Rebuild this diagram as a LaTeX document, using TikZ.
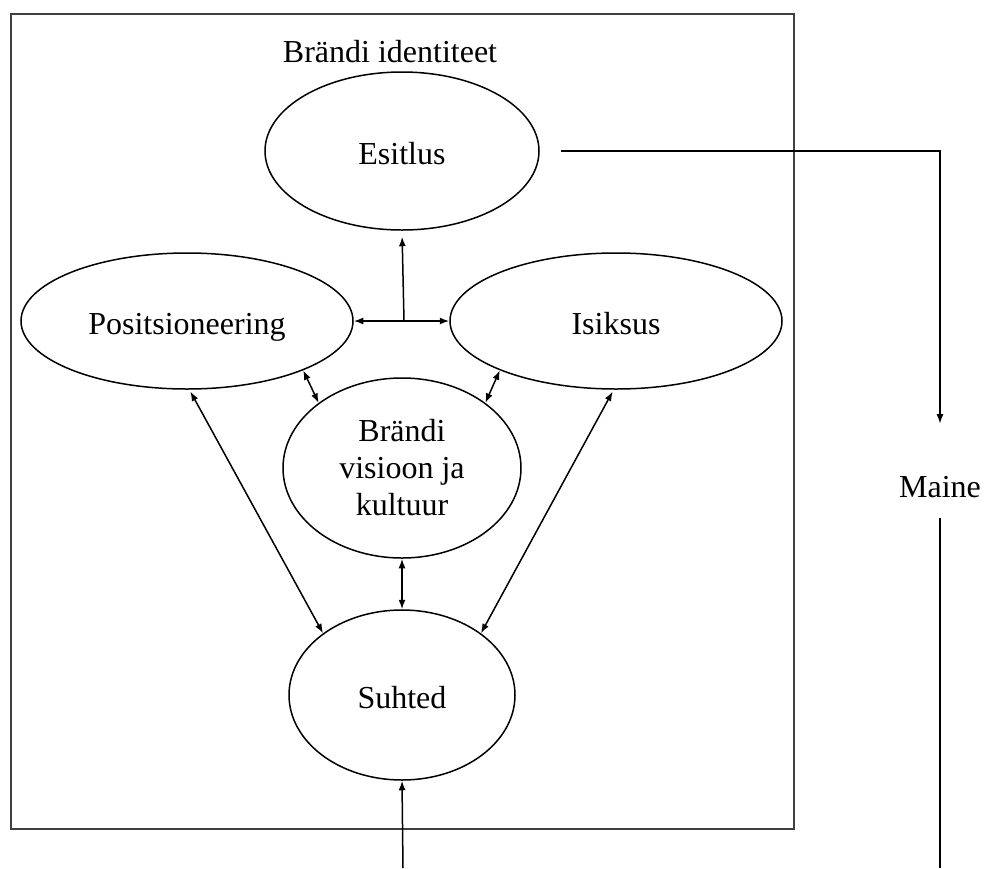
\documentclass[tikz,border=0pt]{standalone}
\usepackage{fontspec}
\setmainfont{Liberation Serif}
\usetikzlibrary{shapes.geometric,arrows.meta}
\begin{document}
\begin{tikzpicture}[x=1pt,y=-1pt,
  font=\fontsize{32}{37}\selectfont,
  bubble/.style={draw, ellipse, inner sep=0pt, line width=1.5pt},
  lbl/.style={text height=30pt, text depth=4pt},
  link/.style={line width=1.5pt, {Latex[length=9.5pt,width=7pt]}-{Latex[length=9.5pt,width=7pt]}},
  oneway/.style={line width=1.5pt, -{Latex[length=9.5pt,width=7pt]}},
  plain/.style={line width=1.5pt},
]
\useasboundingbox (0,0) rectangle (985,868);

% outer frame of the brand identity block
\draw[line width=2.4pt, black!75] (11,14) rectangle (794,829);
\node (title) at (390,52) {Brändi identiteet};

% the five components
\node[bubble, lbl, minimum width=274pt, minimum height=158pt] (esi) at (402,151) {Esitlus};
\node[bubble, lbl, minimum width=332pt, minimum height=136pt] (pos) at (187,321) {Positsioneering};
\node[bubble, lbl, minimum width=332pt, minimum height=136pt] (isi) at (616,321) {Isiksus};
\node[bubble, align=center, minimum width=238pt, minimum height=180pt] (vis) at (402,468) {Brändi\\visioon ja\\kultuur};
\node[bubble, lbl, minimum width=226pt, minimum height=170pt] (suh) at (402,695) {Suhted};

% reputation, outside the frame
\node (maine) at (940,487) {Maine};

% links inside the identity block
\draw[link] (pos.east) -- (isi.west);
\coordinate (hub) at (404,321);
\draw[oneway, shorten >=6pt] (hub) -- (esi.south);
\draw[link] (pos.-23) -- (vis.142);
\draw[link] (isi.-157) -- (vis.38);
\draw[link] (vis.south) -- (suh.north);
\draw[link, shorten <=2pt] (pos.-88) -- (suh.142);
\draw[link, shorten <=2pt] (isi.-92) -- (suh.38);

% presentation feeds reputation
\draw[oneway, shorten <=21pt, shorten >=49pt] (esi.east) -| (maine.north);

% reputation loops back into relations below the frame
\coordinate (mout) at (940,868);
\coordinate (sin) at (403,868);
\draw[plain, shorten <=17pt] (maine.south) -- (mout);
\draw[oneway] (sin) -- (suh.south);
\end{tikzpicture}
\end{document}
